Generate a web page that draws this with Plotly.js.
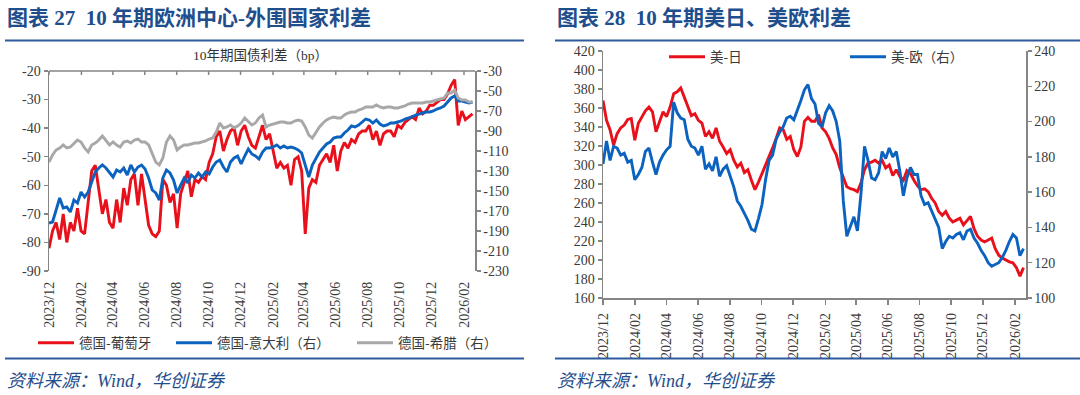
<!DOCTYPE html>
<html>
<head>
<meta charset="utf-8">
<script src="https://cdn.plot.ly/plotly-3.0.1.min.js"></script>
<style>
html,body{margin:0;padding:0;background:#fff;}
#chart{width:1080px;height:395px;}
</style>
</head>
<body>
<div id="chart"></div>
<script>
// ---------- data (one reading about every 6.8 days from 2023-12-01) ----------
const startDate = Date.UTC(2023, 11, 1);
const stepDays = 6.8;

// Chart 27 : 10Y spreads, bp
const dePt = [ // 德国-葡萄牙 (left axis)
  -82,-76,-73,-79,-70,-80,-73,-76,-68,-76,
  -77,-66,-55,-53,-62,-70,-65,-73,-75,-65,
  -73,-61,-67,-58,-56,-67,-56,-65,-74,-77,
  -78,-76,-58,-60,-66,-63,-75,-63,-59,-55,
  -64,-58,-59,-57,-58,-52,-49,-43,-41,-48,
  -44,-41,-40,-46,-41,-39,-43,-46,-47,-43,
  -39,-44,-42,-48,-54,-52,-54,-53,-60,-51,
  -50,-55,-77,-61,-58,-59,-53,-51,-49,-52,
  -46,-55,-48,-45,-47,-44,-45,-42,-41,-41,
  -39,-44,-41,-46,-42,-41,-41,-43,-39,-40,
  -38,-37,-36,-37,-33,-35,-34,-32,-32,-31,
  -30,-30,-28,-25,-23,-39,-34,-37,-36,-35
];
const deIt = [ // 德国-意大利 (right axis)
  -182,-181,-169,-157,-167,-166,-171,-159,-162,-151,
  -156,-151,-141,-131,-127,-124,-127,-132,-136,-129,
  -131,-127,-134,-124,-131,-126,-124,-128,-137,-149,
  -152,-159,-137,-129,-132,-139,-152,-144,-137,-142,
  -134,-137,-132,-136,-131,-133,-126,-121,-119,-126,
  -131,-121,-117,-115,-123,-115,-108,-113,-115,-118,
  -111,-107,-107,-106,-104,-107,-105,-107,-106,-107,
  -109,-112,-124,-136,-124,-117,-111,-107,-103,-101,
  -97,-96,-96,-92,-89,-85,-86,-84,-81,-78,
  -79,-82,-79,-83,-85,-84,-82,-82,-81,-80,
  -78,-77,-76,-74,-73,-72,-71,-71,-70,-68,
  -67,-65,-61,-57,-55,-60,-60,-61,-62,-61
];
const deGr = [ // 德国-希腊 (right axis)
  -121,-114,-109,-107,-104,-107,-106,-102,-99,-101,
  -107,-111,-104,-102,-99,-95,-99,-104,-101,-104,
  -106,-101,-100,-102,-99,-98,-101,-101,-104,-112,
  -121,-124,-117,-101,-95,-99,-109,-106,-104,-104,
  -103,-102,-102,-101,-100,-98,-97,-91,-82,-87,
  -86,-84,-87,-85,-82,-77,-81,-84,-82,-77,
  -74,-86,-84,-83,-82,-81,-81,-82,-82,-80,
  -79,-80,-86,-94,-97,-91,-86,-82,-79,-77,
  -76,-77,-77,-74,-72,-71,-71,-69,-68,-66,
  -66,-66,-64,-66,-67,-66,-66,-67,-67,-66,
  -65,-63,-62,-62,-62,-62,-61,-61,-60,-59,
  -58,-57,-52,-52,-49,-57,-59,-59,-61,-61
];

// Chart 28 : 10Y US-JP and US-EU spreads, bp
const usJp = [ // 美-日 (left axis)
  368,347,337,321,333,339,342,348,349,326,
  344,351,357,361,356,335,346,356,351,361,
  375,377,381,372,361,352,354,347,344,330,
  335,328,339,325,319,312,316,305,298,302,
  292,295,284,274,282,291,300,307,318,328,
  339,337,327,330,316,309,319,346,350,346,
  346,353,339,335,328,318,311,297,286,277,
  275,274,272,281,295,302,303,305,302,305,
  297,300,289,295,288,284,294,291,284,278,
  274,275,272,265,260,251,247,251,244,240,
  242,244,237,242,246,233,225,221,219,221,
  223,212,205,202,200,198,197,192,183,192
];
const usEu = [ // 美-欧 (right axis)
  176,189,178,186,185,181,182,177,178,167,
  170,174,183,185,177,170,177,181,184,186,
  211,205,202,201,190,186,185,181,186,173,
  176,172,180,169,173,175,169,163,155,152,
  148,144,139,138,145,153,167,178,181,190,
  194,197,202,203,201,206,212,218,221,213,
  210,199,197,205,209,206,200,189,155,135,
  140,146,138,159,186,178,168,167,171,183,
  179,185,180,183,172,158,168,174,170,170,
  158,153,154,149,145,140,128,132,135,134,
  136,137,133,138,139,134,131,127,124,120,
  118,119,120,123,127,132,136,134,124,128
];

// tick labels
const tickDates = ['2023-12-01','2024-02-01','2024-04-01','2024-06-01','2024-08-01','2024-10-01','2024-12-01',
                   '2025-02-01','2025-04-01','2025-06-01','2025-08-01','2025-10-01','2025-12-01','2026-02-01'];
const tickLabels = ['2023/12','2024/02','2024/04','2024/06','2024/08','2024/10','2024/12',
                    '2025/02','2025/04','2025/06','2025/08','2025/10','2025/12','2026/02'];
const yTicksL27 = [-90,-80,-70,-60,-50,-40,-30,-20];
const yLabelsL27 = ['-90','-80','-70','-60','-50','-40','-30','-20'];
const yTicksR27 = [-230,-210,-190,-170,-150,-130,-110,-90,-70,-50,-30];
const yLabelsR27 = ['-230','-210','-190','-170','-150','-130','-110','-90','-70','-50','-30'];
const xRange = ['2023-12-01', '2026-02-22'];

function readingDates(n) {
  const out = [];
  for (let i = 0; i < n; i++) {
    const d = new Date(startDate + i * stepDays * 86400000);
    out.push(d.toISOString().slice(0, 19).replace('T', ' '));
  }
  return out;
}
const dates = readingDates(dePt.length);

// ---------- styling ----------
const W = 1080, H = 395;
const px = v => v / W;
const py = v => 1 - v / H;
const RED = '#E8111B', BLUE = '#0B63BF', GRAY = '#A8A8A8';
const AXIS = '#858585';
const AXW = 1.5;
const TICKFONT = {family: 'Liberation Serif, Times New Roman, serif', size: 14, color: '#3A3A3A'};
const LEGFONT = {family: 'Noto Sans CJK SC, sans-serif', size: 13.5, color: '#3A3A3A'};
const TITLEBLUE = '#1F4E8C';
const RULE = '#2F5A9E';
const LW = 2.9;

const traces = [
  {x: dates, y: dePt, name: '德国-葡萄牙', type: 'scatter', mode: 'lines', xaxis: 'x', yaxis: 'y',
   line: {color: RED, width: LW}, legend: 'legend'},
  {x: dates, y: deIt, name: '德国-意大利（右）', type: 'scatter', mode: 'lines', xaxis: 'x', yaxis: 'y2',
   line: {color: BLUE, width: LW}, legend: 'legend2'},
  {x: dates, y: deGr, name: '德国-希腊（右）', type: 'scatter', mode: 'lines', xaxis: 'x', yaxis: 'y2',
   line: {color: GRAY, width: LW}, legend: 'legend3'},
  {x: dates, y: usJp, name: '美-日', type: 'scatter', mode: 'lines', xaxis: 'x2', yaxis: 'y3',
   line: {color: RED, width: LW}, legend: 'legend4'},
  {x: dates, y: usEu, name: '美-欧（右）', type: 'scatter', mode: 'lines', xaxis: 'x2', yaxis: 'y4',
   line: {color: BLUE, width: LW}, legend: 'legend5'}
];

const legendBase = {orientation: 'h', xanchor: 'left', yanchor: 'middle', bgcolor: 'rgba(0,0,0,0)',
                    borderwidth: 0, font: LEGFONT, itemwidth: 36, tracegroupgap: 0};

const L = {left: 49, right: 475, top: 71, bottom: 271};
const R = {left: 603, right: 1026, top: 51, bottom: 298};

const yCommon = {showline: true, linecolor: AXIS, linewidth: AXW, ticks: 'outside', ticklen: 4, tickcolor: AXIS,
                 tickwidth: AXW, tickfont: TICKFONT, showgrid: false, zeroline: false};

// chart 27: the category axis sits at the top (values are all negative); labels stay low
const topAxisShapes = [
  {type: 'line', xref: 'x domain', yref: 'y domain', x0: 0, x1: 1, y0: 1, y1: 1,
   line: {color: AXIS, width: AXW}}
].concat(tickDates.map(d => ({
  type: 'line', xref: 'x', yref: 'y domain', x0: d, x1: d, y0: 1, y1: 1 - 4 / (L.bottom - L.top),
  line: {color: AXIS, width: AXW}
})));

const ruleShapes = [
  {type: 'line', xref: 'paper', yref: 'paper', x0: px(5), x1: px(524), y0: py(40.5), y1: py(40.5),
   line: {color: RULE, width: 2}},
  {type: 'line', xref: 'paper', yref: 'paper', x0: px(5), x1: px(524), y0: py(358.5), y1: py(358.5),
   line: {color: RULE, width: 2}},
  {type: 'line', xref: 'paper', yref: 'paper', x0: px(555), x1: px(1080), y0: py(40.5), y1: py(40.5),
   line: {color: RULE, width: 2}},
  {type: 'line', xref: 'paper', yref: 'paper', x0: px(555), x1: px(1080), y0: py(358.5), y1: py(358.5),
   line: {color: RULE, width: 2}}
];

const layout = {
  width: W, height: H,
  margin: {l: 0, r: 0, t: 0, b: 0, pad: 0},
  paper_bgcolor: '#ffffff', plot_bgcolor: 'rgba(0,0,0,0)',
  showlegend: true,
  font: {family: 'Noto Sans CJK SC, sans-serif', color: '#333'},
  xaxis: {
    domain: [px(L.left), px(L.right)], anchor: 'y', type: 'date', range: xRange,
    tickmode: 'array', tickvals: tickDates, ticktext: tickLabels, tickangle: -90,
    tickfont: TICKFONT, showline: false, ticks: '', showgrid: false, zeroline: false,
    ticklabelstandoff: 7
  },
  yaxis: Object.assign({}, yCommon, {
    domain: [py(L.bottom), py(L.top)], anchor: 'x', range: [-90, -20],
    tickmode: 'array', tickvals: yTicksL27, ticktext: yLabelsL27
  }),
  yaxis2: Object.assign({}, yCommon, {
    overlaying: 'y', side: 'right', anchor: 'x', range: [-230, -30],
    tickmode: 'array', tickvals: yTicksR27, ticktext: yLabelsR27
  }),
  xaxis2: {
    domain: [px(R.left), px(R.right)], anchor: 'y3', type: 'date', range: xRange,
    tickmode: 'array', tickvals: tickDates, ticktext: tickLabels, tickangle: -90,
    tickfont: TICKFONT, showline: true, linecolor: AXIS, linewidth: AXW, ticks: 'outside', ticklen: 5,
    tickwidth: AXW, tickcolor: AXIS, showgrid: false, zeroline: false, ticklabelstandoff: 3
  },
  yaxis3: Object.assign({}, yCommon, {
    domain: [py(R.bottom), py(R.top)], anchor: 'x2', range: [160, 420], tick0: 160, dtick: 20
  }),
  yaxis4: Object.assign({}, yCommon, {
    overlaying: 'y3', side: 'right', anchor: 'x2', range: [100, 240], tick0: 100, dtick: 20
  }),
  legend:  Object.assign({}, legendBase, {x: px(33),  y: py(343)}),
  legend2: Object.assign({}, legendBase, {x: px(171), y: py(343)}),
  legend3: Object.assign({}, legendBase, {x: px(352), y: py(343)}),
  legend4: Object.assign({}, legendBase, {x: px(664), y: py(57)}),
  legend5: Object.assign({}, legendBase, {x: px(845), y: py(57)}),
  shapes: ruleShapes.concat(topAxisShapes),
  annotations: [
    {text: '<b>图表 27\u00a0\u00a010 年期欧洲中心-外围国家利差</b>', xref: 'paper', yref: 'paper',
     x: px(5), y: py(18), xanchor: 'left', yanchor: 'middle', showarrow: false,
     font: {family: 'Liberation Serif, Noto Sans CJK SC, serif', size: 21, color: TITLEBLUE}},
    {text: '<b>图表 28\u00a0\u00a010 年期美日、美欧利差</b>', xref: 'paper', yref: 'paper',
     x: px(555), y: py(18), xanchor: 'left', yanchor: 'middle', showarrow: false,
     font: {family: 'Liberation Serif, Noto Sans CJK SC, serif', size: 21, color: TITLEBLUE}},
    {text: '10年期国债利差（bp）', xref: 'paper', yref: 'paper',
     x: px(260), y: py(56), xanchor: 'center', yanchor: 'middle', showarrow: false,
     font: {family: 'Liberation Serif, Noto Sans CJK SC, serif', size: 13.5, color: '#333'}},
    {text: '<i>资料来源：Wind，华创证券</i>', xref: 'paper', yref: 'paper',
     x: px(5), y: py(381), xanchor: 'left', yanchor: 'middle', showarrow: false,
     font: {family: 'Liberation Serif, Noto Sans CJK SC, serif', size: 18, color: TITLEBLUE}},
    {text: '<i>资料来源：Wind，华创证券</i>', xref: 'paper', yref: 'paper',
     x: px(555), y: py(381), xanchor: 'left', yanchor: 'middle', showarrow: false,
     font: {family: 'Liberation Serif, Noto Sans CJK SC, serif', size: 18, color: TITLEBLUE}}
  ]
};

Plotly.newPlot('chart', traces, layout, {staticPlot: true, displayModeBar: false});
</script>
</body>
</html>
